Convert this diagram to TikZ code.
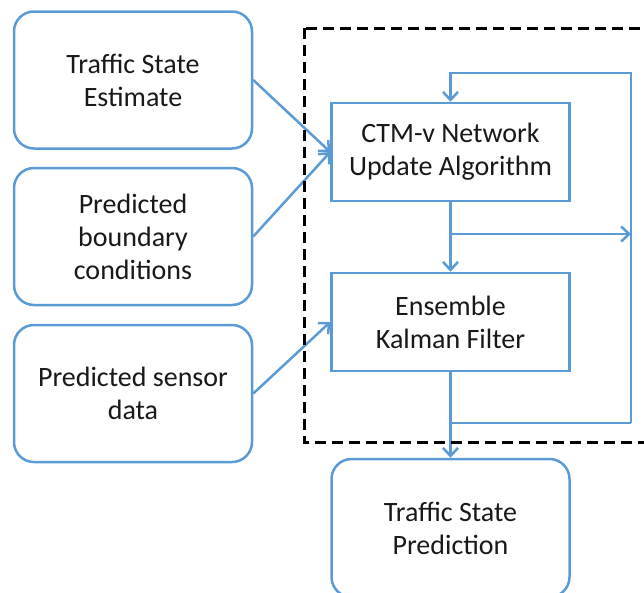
\documentclass[tikz,border=0pt]{standalone}
\usepackage{fontspec}
\setmainfont{Carlito}
\usetikzlibrary{arrows.meta}
\definecolor{lblue}{RGB}{91,155,213}
\definecolor{txt}{RGB}{25,25,25}
\begin{document}
\begin{tikzpicture}[x=1pt,y=-1pt,
 rbox/.style={draw=lblue,line width=2.5pt,fill=white,minimum width=238pt,minimum height=137pt,inner sep=0pt,align=center,text=txt,font=\fontsize{28}{33}\selectfont,rounded corners=20pt},
 sqbox/.style={draw=lblue,line width=2.5pt,fill=white,minimum width=238pt,minimum height=98pt,inner sep=0pt,align=center,text=txt,font=\fontsize{28}{33}\selectfont},
 conn/.style={draw=lblue,line width=2.5pt},
 arr/.style={conn,-{Straight Barb[length=8pt,width=15pt]}}]
\useasboundingbox (0,0) rectangle (644,592);
\clip (0,0) rectangle (644,592);
\node[rbox] (b1) at (133,80) {Traffic State\\Estimate};
\node[rbox] (b2) at (133,236.5) {Predicted\\boundary\\conditions};
\node[rbox] (b3) at (133,393.5) {Predicted sensor\\data};
\node[sqbox] (ctm) at (450.5,152) {CTM-v Network\\Update Algorithm};
\node[sqbox] (enkf) at (450.5,322) {Ensemble\\Kalman Filter};
\node[rbox,minimum height=138pt] (pred) at (450.5,528) {Traffic State\\Prediction};
\coordinate (j1) at (450.5,234);
\coordinate (j2) at (450.5,423);
\coordinate (rb) at (631,423);
\coordinate (rt) at (631,73);
\coordinate (tl) at (450.5,73);
\coordinate (rm) at (631,234);
\draw[arr] (b1.east) -- (ctm.west);
\draw[arr] (b2.east) -- (ctm.west);
\draw[arr] (b3.east) -- (enkf.west);
\draw[arr] (ctm.south) -- (enkf.north);
\draw[arr] (j1) -- (rm);
\draw[conn] (enkf.south) -- (j2) -- (rb);
\draw[arr] (rb) -- (rt) -- (tl) -- (ctm.north);
\draw[arr] (j2) -- (pred.north);
\draw[black,line width=3pt,dash pattern=on 11pt off 6pt] (304,28) rectangle (670,442);
\end{tikzpicture}
\end{document}
